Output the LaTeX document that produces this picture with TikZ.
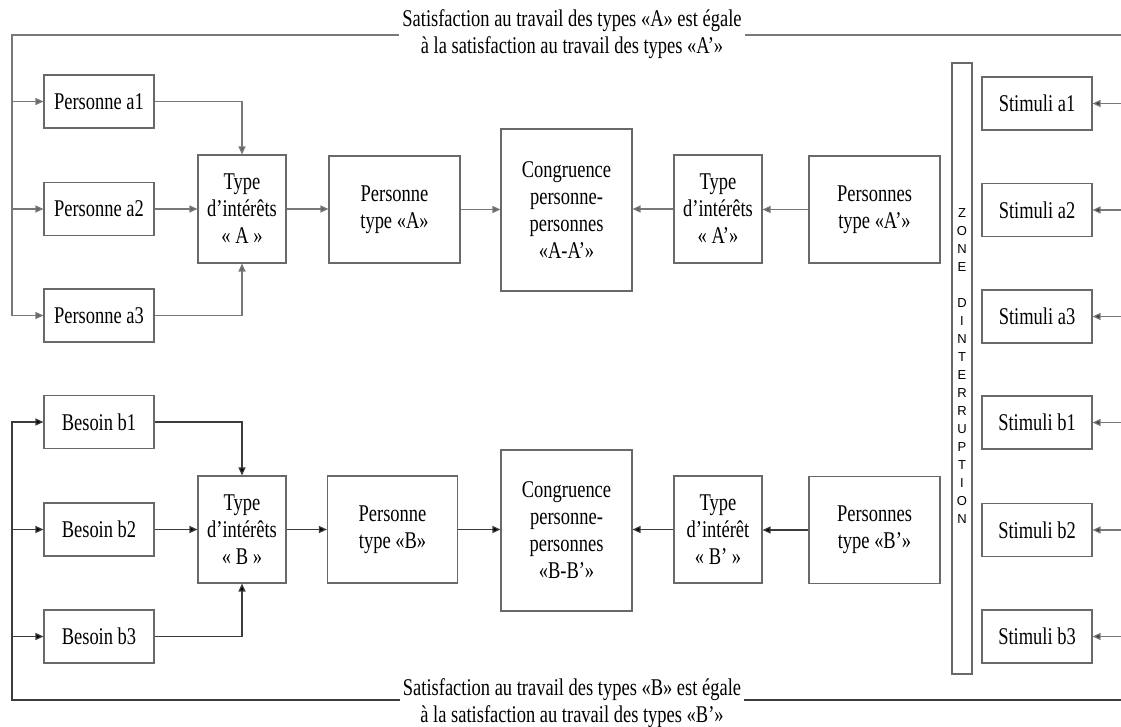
\documentclass[tikz,border=0pt]{standalone}
\usepackage{fontspec}
\setmainfont{Liberation Serif}[FakeStretch=0.77]
\newfontfamily\zonefont{Liberation Sans}
\usetikzlibrary{arrows.meta}

\definecolor{boxc}{RGB}{105,105,105}
\definecolor{topc}{RGB}{120,120,120}
\definecolor{topt}{RGB}{100,100,100}
\definecolor{botc}{RGB}{60,60,60}
\newcommand\lbl{\fontsize{24}{27}\selectfont}

\tikzset{
  box/.style={draw=boxc, line width=1.1pt, inner sep=0pt, align=center, font=\lbl},
  small/.style={box, minimum width=110pt, minimum height=53pt},
  typebox/.style={box, minimum width=88pt, minimum height=108pt},
  persbox/.style={box, minimum width=131pt, minimum height=107pt},
  congbox/.style={box, minimum width=131pt, minimum height=162pt},
  caption/.style={align=center, font=\lbl, inner sep=3pt},
  toparr/.style={draw=topc, line width=1.2pt, -{Triangle[length=8pt,width=7pt,fill=topt]}},
  topline/.style={draw=topc, line width=1.2pt},
  botarr/.style={draw=botc, line width=1.2pt, -{Triangle[length=8pt,width=7pt,fill=black]}},
  botline/.style={draw=botc, line width=1.2pt},
  stimarr/.style={draw=topc, line width=1.2pt, -{Triangle[length=8pt,width=7pt,fill=botc]}}
}

\begin{document}
\begin{tikzpicture}[x=1pt, y=-1pt]
\useasboundingbox (0,0) rectangle (1121,727);

% --- captions on the feedback loops
\node[caption] (capA) at (572,34.5) {Satisfaction au travail des types «A» est égale\\à la satisfaction au travail des types «A’»};
\node[caption] (capB) at (572,703.5) {Satisfaction au travail des types «B» est égale\\à la satisfaction au travail des types «B’»};

% --- upper chain (A)
\node[small] (pa1) at (99,101.5) {Personne a1};
\node[small] (pa2) at (99,209) {Personne a2};
\node[small] (pa3) at (99,315.5) {Personne a3};
\node[typebox] (tA) at (242,209) {Type\\d’intérêts\\« A »};
\node[persbox] (ptA) at (394.5,209.5) {Personne\\type «A»};
\node[congbox] (congA) at (566.5,210) {Congruence\\personne-\\personnes\\«A-A’»};
\node[typebox] (tA2) at (718,209) {Type\\d’intérêts\\« A’»};
\node[persbox] (ptA2) at (874.5,209.5) {Personnes\\type «A’»};

% --- lower chain (B)
\node[small] (pb1) at (99,422) {Besoin b1};
\node[small] (pb2) at (99,529.5) {Besoin b2};
\node[small] (pb3) at (99,636.5) {Besoin b3};
\node[typebox, minimum height=107pt] (tB) at (242,529.5) {Type\\d’intérêts\\« B »};
\node[persbox, minimum width=130pt] (ptB) at (392.5,529.5) {Personne\\type «B»};
\node[congbox, minimum height=161pt] (congB) at (566.5,530.5) {Congruence\\personne-\\personnes\\«B-B’»};
\node[typebox, minimum height=107pt] (tB2) at (718,529.5) {Type\\d’intérêt\\« B’ »};
\node[persbox] (ptB2) at (874.5,530) {Personnes\\type «B’»};

% --- interruption zone
\node[box, minimum width=20pt, minimum height=611pt] (zone) at (962,368.5) {};
\foreach \c [count=\i] in {Z,O,N,E,{},D,I,N,T,E,R,R,U,P,T,I,O,N}
  \node[font=\zonefont\fontsize{13}{13}\selectfont, inner sep=0pt] (zl\i) at (962,195+18*\i) {\c};

% --- stimuli
\node[small] (sa1) at (1037,103.5) {Stimuli a1};
\node[small] (sa2) at (1037,210) {Stimuli a2};
\node[small] (sa3) at (1037,316.5) {Stimuli a3};
\node[small] (sb1) at (1037,422.5) {Stimuli b1};
\node[small] (sb2) at (1037,530) {Stimuli b2};
\node[small] (sb3) at (1037,636.5) {Stimuli b3};

% --- loop corners and outer edge
\coordinate (tl) at (12,35);
\coordinate (tr) at (1121,35);
\coordinate (bl) at (12,700);
\coordinate (br) at (1121,700);
\coordinate (rx) at (1121,0);

% --- upper connectors
\draw[toparr] (capA.west |- tl) -- (tl) |- (pa3.west);
\draw[topline] (capA.east |- tr) -- (tr);
\draw[toparr] (tl |- pa1) -- (pa1.west);
\draw[toparr] (tl |- pa2) -- (pa2.west);
\draw[toparr] (pa1.east) -| (tA.north);
\draw[toparr] (pa2.east) -- (tA.west);
\draw[toparr] (pa3.east) -| (tA.south);
\draw[toparr] (tA.east) -- (ptA.west |- tA);
\draw[toparr] (ptA.east) -- (congA.west |- ptA);
\draw[toparr] (tA2.west) -- (congA.east |- tA2);
\draw[toparr] (ptA2.west) -- (tA2.east |- ptA2);

% --- lower connectors
\draw[botarr] (capB.west |- bl) -- (bl) |- (pb1.west);
\draw[botline] (capB.east |- br) -- (br);
\draw[botarr] (bl |- pb2) -- (pb2.west);
\draw[botarr] (bl |- pb3) -- (pb3.west);
\draw[botarr] (pb1.east) -| (tB.north);
\draw[botarr] (pb2.east) -- (tB.west);
\draw[botarr] (pb3.east) -| (tB.south);
\draw[botarr] (tB.east) -- (ptB.west |- tB);
\draw[botarr] (ptB.east) -- (congB.west |- ptB);
\draw[botarr] (tB2.west) -- (congB.east |- tB2);
\draw[botarr] (ptB2.west) -- (tB2.east |- ptB2);

% --- stimuli inputs from the right edge
\foreach \s in {sa1,sa2,sa3,sb1,sb2,sb3}
  \draw[stimarr] (rx |- \s) -- (\s.east);
\end{tikzpicture}
\end{document}
